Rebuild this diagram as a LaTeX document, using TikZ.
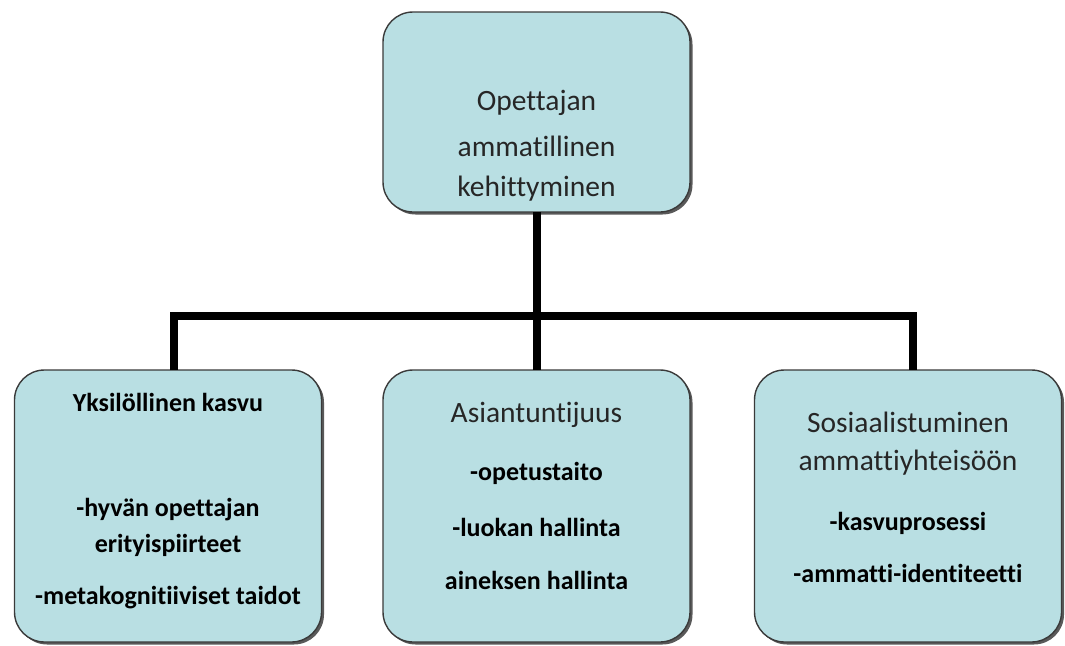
\documentclass[tikz,border=0pt]{standalone}
\usepackage{fontspec}
\setmainfont[Ligatures=CommonOff]{Carlito}
\usetikzlibrary{shadows}
\definecolor{boxfill}{HTML}{B9DFE3}
\definecolor{boxline}{HTML}{3A3A3A}
\tikzset{
  box/.style={draw=boxline, line width=1.4pt, fill=boxfill, rounded corners=30pt,
    inner sep=0pt, outer sep=0pt,
    drop shadow={shadow xshift=2.5pt, shadow yshift=-2.5pt, fill=black!65, opacity=1}},
  head/.style={font=\fontsize{29.5}{32}\selectfont, text=black!85, inner sep=0pt},
  item/.style={font=\fontsize{26}{29}\selectfont\bfseries, text=black, inner sep=0pt},
  conn/.style={line width=8pt, black, line join=miter}
}
\begin{document}
\begin{tikzpicture}[x=1pt,y=-1pt]
\useasboundingbox (0,0) rectangle (1065,645);

% boxes
\node[box, minimum width=307pt, minimum height=200pt] (top) at (536.5,112) {};
\node[box, minimum width=307pt, minimum height=272pt] (left) at (168,506) {};
\node[box, minimum width=307pt, minimum height=272pt] (mid) at (536.5,506) {};
\node[box, minimum width=307pt, minimum height=272pt] (right) at (908,506) {};

% connectors
\coordinate (bl) at (174,316);
\coordinate (br) at (913,316);
\draw[conn] (top.south) -- (mid.north);
\draw[conn] (left.north -| bl) -- (bl) -- (br) -- (right.north -| br);

% top box text
\node[head] (t1) at (536.5,103) {Opettajan};
\node[head] (t2) at (536.5,146) {ammatillinen};
\node[head] (t3) at (536.5,189) {kehittyminen};

% left box text
\node[item] (l1) at (168,402) {Yksilöllinen kasvu};
\node[item] (l2) at (168,510) {-hyvän opettajan};
\node[item] (l3) at (168,545) {erityispiirteet};
\node[item] (l4) at (168,598) {-metakognitiiviset taidot};

% middle box text
\node[head] (m1) at (536.5,415) {Asiantuntijuus};
\node[item] (m2) at (536.5,473) {-opetustaito};
\node[item] (m3) at (536.5,527) {-luokan hallinta};
\node[item] (m4) at (536.5,580) {aineksen hallinta};

% right box text
\node[head] (r1) at (908,422) {Sosiaalistuminen};
\node[head] (r2) at (908,463) {ammattiyhteisöön};
\node[item] (r3) at (908,523) {-kasvuprosessi};
\node[item] (r4) at (908,573) {-ammatti-identiteetti};
\end{tikzpicture}
\end{document}
